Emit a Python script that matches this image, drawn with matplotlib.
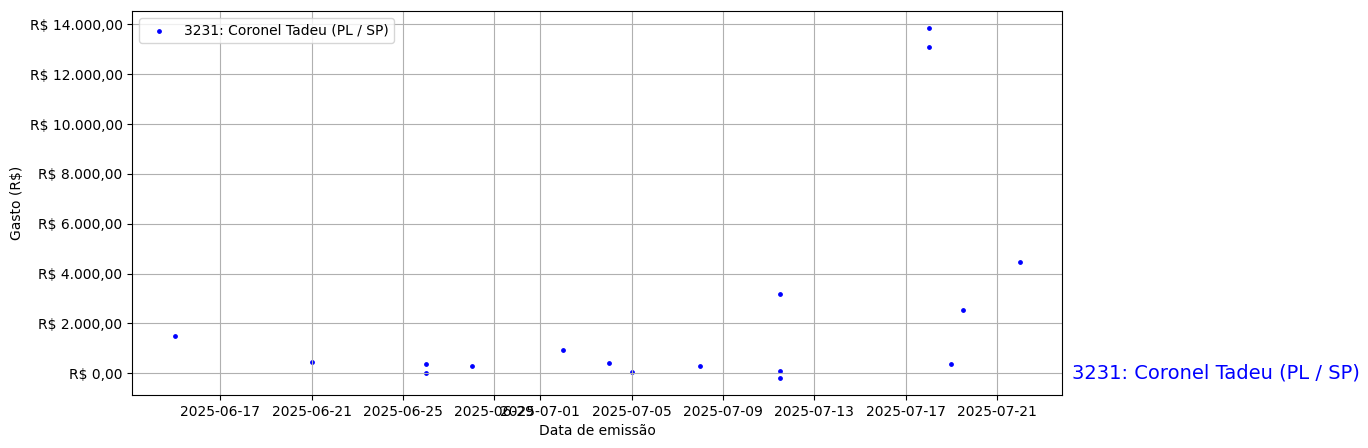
import matplotlib
matplotlib.use("Agg")
import matplotlib.pyplot as plt
import matplotlib.ticker as mticker
import matplotlib.transforms as mtransforms
import pandas as pd

label = "3231: Coronel Tadeu (PL / SP)"
dates = [
    "2025-06-15 00:00", "2025-06-21 00:00", "2025-06-26 00:00", "2025-06-26 00:00", "2025-06-28 00:00",
    "2025-07-02 00:00", "2025-07-04 00:00", "2025-07-05 00:00", "2025-07-08 00:00",
    "2025-07-11 12:00", "2025-07-11 12:00", "2025-07-11 12:00",
    "2025-07-18 00:00", "2025-07-18 00:00", "2025-07-19 00:00", "2025-07-19 12:00", "2025-07-22 00:00",
]
values = [
    1510, 470, 390, 25, 310,
    950, 430, 70, 310,
    3190, 110, -170,
    13840, 13080, 390, 2550, 4470,
]

x = pd.to_datetime(dates, format="%Y-%m-%d %H:%M")

def brl(v, pos=None):
    s = f"{abs(v):,.2f}".replace(",", "X").replace(".", ",").replace("X", ".")
    return ("-" if v < 0 else "") + "R$ " + s

fig = plt.figure(figsize=(13.68, 4.48), dpi=100)
ax = fig.add_axes([132.3 / 1368, 1 - 395 / 448, (1062.3 - 132.3) / 1368, (395 - 11) / 448])
ax.scatter(x, values, s=6, color="blue", label=label)
ax.yaxis.set_major_formatter(mticker.FuncFormatter(brl))
ax.set_xlabel("Data de emissão")
ax.set_ylabel("Gasto (R$)")
ax.grid(True)
ax.legend(loc="upper left")
trans = mtransforms.blended_transform_factory(ax.transAxes, ax.transData)
ax.text(1.01, 0, label, transform=trans, color="blue", fontsize=14, va="center", ha="left")
fig.savefig("out.png", dpi=100)
